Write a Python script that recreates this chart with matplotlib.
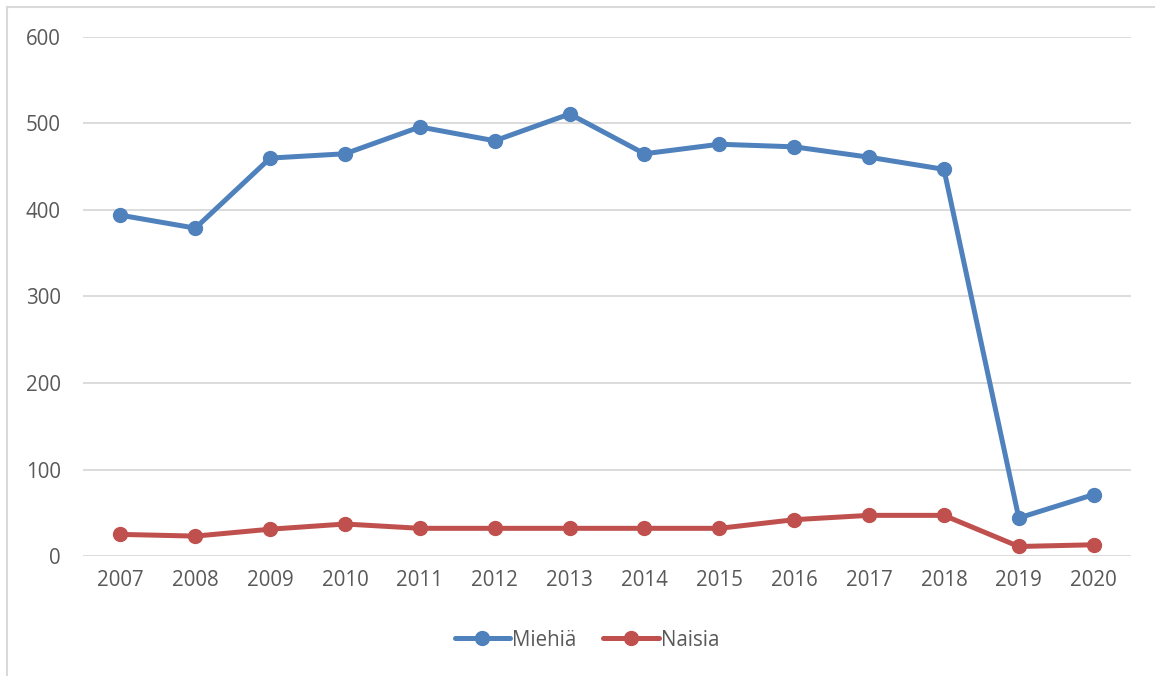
import matplotlib
matplotlib.use("Agg")
from matplotlib import pyplot as plt
from matplotlib.lines import Line2D
import numpy as np

# Yearly counts by sex
years = ["2007", "2008", "2009", "2010", "2011", "2012", "2013",
         "2014", "2015", "2016", "2017", "2018", "2019", "2020"]
miehia = [394, 379, 460, 465, 496, 480, 511, 465, 476, 473, 461, 447, 44, 71]
naisia = [25, 23, 31, 37, 32, 32, 32, 32, 32, 42, 47, 47, 11, 13]

plt.rcParams["font.family"] = ["Open Sans", "DejaVu Sans"]
text_color = "#595959"
grid_color = "#D9D9D9"

fig = plt.figure(figsize=(11.55, 6.76), dpi=100)
axis = fig.add_axes([0.0719, 0.1775, 0.9074, 0.7678])

x = np.arange(len(years))
axis.plot(x, miehia, color="#4F81BD", linewidth=3.6, marker="o", markersize=10,
          solid_capstyle="round", label="Miehiä", zorder=3)
axis.plot(x, naisia, color="#C0504D", linewidth=3.6, marker="o", markersize=10,
          solid_capstyle="round", label="Naisia", zorder=3)

axis.set_xlim(-0.5, len(years) - 0.5)
axis.set_ylim(0, 600)
axis.set_yticks(range(0, 601, 100))
axis.set_xticks(x)
axis.set_xticklabels(years)
axis.yaxis.grid(True, color=grid_color, linewidth=1.3)
axis.set_axisbelow(True)
for spine in axis.spines.values():
    spine.set_visible(False)
axis.tick_params(axis="both", length=0, labelsize=14.8, labelcolor=text_color)
axis.tick_params(axis="y", pad=16)
axis.tick_params(axis="x", pad=10)

leg = fig.legend(loc="center", bbox_to_anchor=(0.508, 0.053), ncol=2, frameon=False,
                 fontsize=14.8, handlelength=2.7, columnspacing=1.3, handletextpad=0.1)
for t in leg.get_texts():
    t.set_color(text_color)

# Light frame around the chart area
fig.add_artist(Line2D([7 / 1155, 7 / 1155], [0, 1 - 7 / 676], color=grid_color,
                      linewidth=1.5, transform=fig.transFigure))
fig.add_artist(Line2D([7 / 1155, 1], [1 - 7 / 676, 1 - 7 / 676], color=grid_color,
                      linewidth=1.5, transform=fig.transFigure))

fig.savefig("out.png", dpi=100)
